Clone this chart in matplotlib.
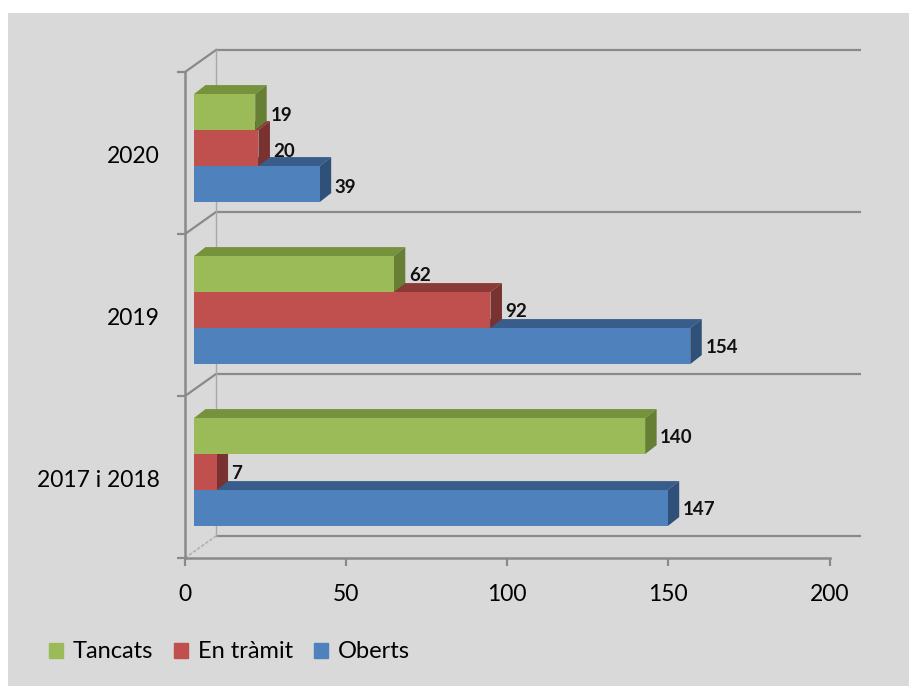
import matplotlib
matplotlib.use("Agg")
import matplotlib.pyplot as plt
from matplotlib.patches import Polygon, Patch, Rectangle

years = ["2017 i 2018", "2019", "2020"]
tancats = [140, 62, 19]
en_tramit = [7, 92, 20]
oberts = [147, 154, 39]
x_ticks = [0, 50, 100, 150, 200]

plt.rcParams["font.family"] = ["Lato", "DejaVu Sans"]

GREY = "#8a8a8a"
BG = "#d9d9d9"

# pixel sizes of the plot, used to turn the fake 3d offsets into data units
PX_X = 644.5 / 200
PX_Y = 162.0

fig = plt.figure(figsize=(9.09, 6.86), dpi=100, facecolor="white")
fig.patches.append(Rectangle((8 / 909, 0), 901 / 909, 673 / 686, zorder=-1,
                             transform=fig.transFigure, facecolor=BG, edgecolor="none"))

ax = fig.add_axes([185 / 909, (686 - 558) / 686, 644.5 / 909, 486 / 686])
ax.set_xlim(0, 200)
ax.set_ylim(0, 3)
ax.patch.set_visible(False)

# back wall and floor lines
wall_x = 31 / PX_X
wall_y = 22 / PX_Y
for i in range(4):
    ax.plot([wall_x, 200 + wall_x], [i + wall_y, i + wall_y], color=GREY, lw=1.6,
            clip_on=False, zorder=1, solid_capstyle="butt")
    ax.plot([0, wall_x], [i, i + wall_y], color=GREY if i else "#b0b0b0", lw=1.6 if i else 1.2,
            ls="-" if i else (0, (2, 1)), clip_on=False, zorder=1)
ax.plot([wall_x, wall_x], [wall_y, 3 + wall_y], color="#a8a8a8", lw=1.0, clip_on=False, zorder=1)

# bar depth and gap
start = 9 / PX_X
dx = 11.5 / PX_X
dy = 9 / PX_Y
h = 36 / PX_Y


def bar3d(val, low, front, top, side, nudge):
    x0 = start
    x1 = start + val
    up = low + h
    ax.add_patch(Polygon([(x0, up), (x0 + dx, up + dy), (x1 + dx, up + dy), (x1, up)],
                         facecolor=top, edgecolor="none", clip_on=False, zorder=3))
    ax.add_patch(Polygon([(x1, low), (x1 + dx, low + dy), (x1 + dx, up + dy), (x1, up)],
                         facecolor=side, edgecolor="none", clip_on=False, zorder=3))
    ax.add_patch(Rectangle((x0, low), val, h, facecolor=front, edgecolor="none",
                           clip_on=False, zorder=3))
    ax.annotate(str(val), (x1, low + h / 2), xytext=(15, nudge), textcoords="offset pixels",
                fontsize=13.5, fontweight="bold", color="#111111", va="center", ha="left",
                family="Lato", zorder=5)


for i in range(len(years)):
    base = i + 0.197
    nudge = -3 if i == 2 else -1
    bar3d(oberts[i], base, "#4f81bd", "#385d8a", "#2f5078", nudge)
    bar3d(en_tramit[i], base + h, "#c0504d", "#8c3a38", "#7a3230", nudge)
    bar3d(tancats[i], base + 2 * h, "#9bbb59", "#76923c", "#677f35", nudge)

ax.set_xticks(x_ticks)
ax.set_yticks([0, 1, 2, 3])
ax.set_yticklabels([])
ax.set_yticks([0.49, 1.49, 2.49], labels=years, minor=True)
ax.tick_params(axis="x", which="major", color=GREY, width=1.6, length=5.5, labelsize=16.5, pad=13)
ax.tick_params(axis="y", which="major", color=GREY, width=1.6, length=5.5, labelsize=16.5)
ax.tick_params(axis="y", which="minor", length=0, labelsize=16.5, pad=18)
for s in ["top", "right"]:
    ax.spines[s].set_visible(False)
for s in ["left", "bottom"]:
    ax.spines[s].set_color(GREY)
    ax.spines[s].set_linewidth(1.8)

handles = [Patch(color="#9bbb59", label="Tancats"),
           Patch(color="#c0504d", label="En tràmit"),
           Patch(color="#4f81bd", label="Oberts")]
fig.legend(handles=handles, ncol=3, frameon=False, fontsize=17,
           loc="center left", bbox_to_anchor=(49 / 909, (686 - 652) / 686),
           handlelength=0.6, handleheight=0.6, handletextpad=0.4, columnspacing=0.9,
           borderpad=0, borderaxespad=0)

fig.savefig("out.png", dpi=100, facecolor="white")
